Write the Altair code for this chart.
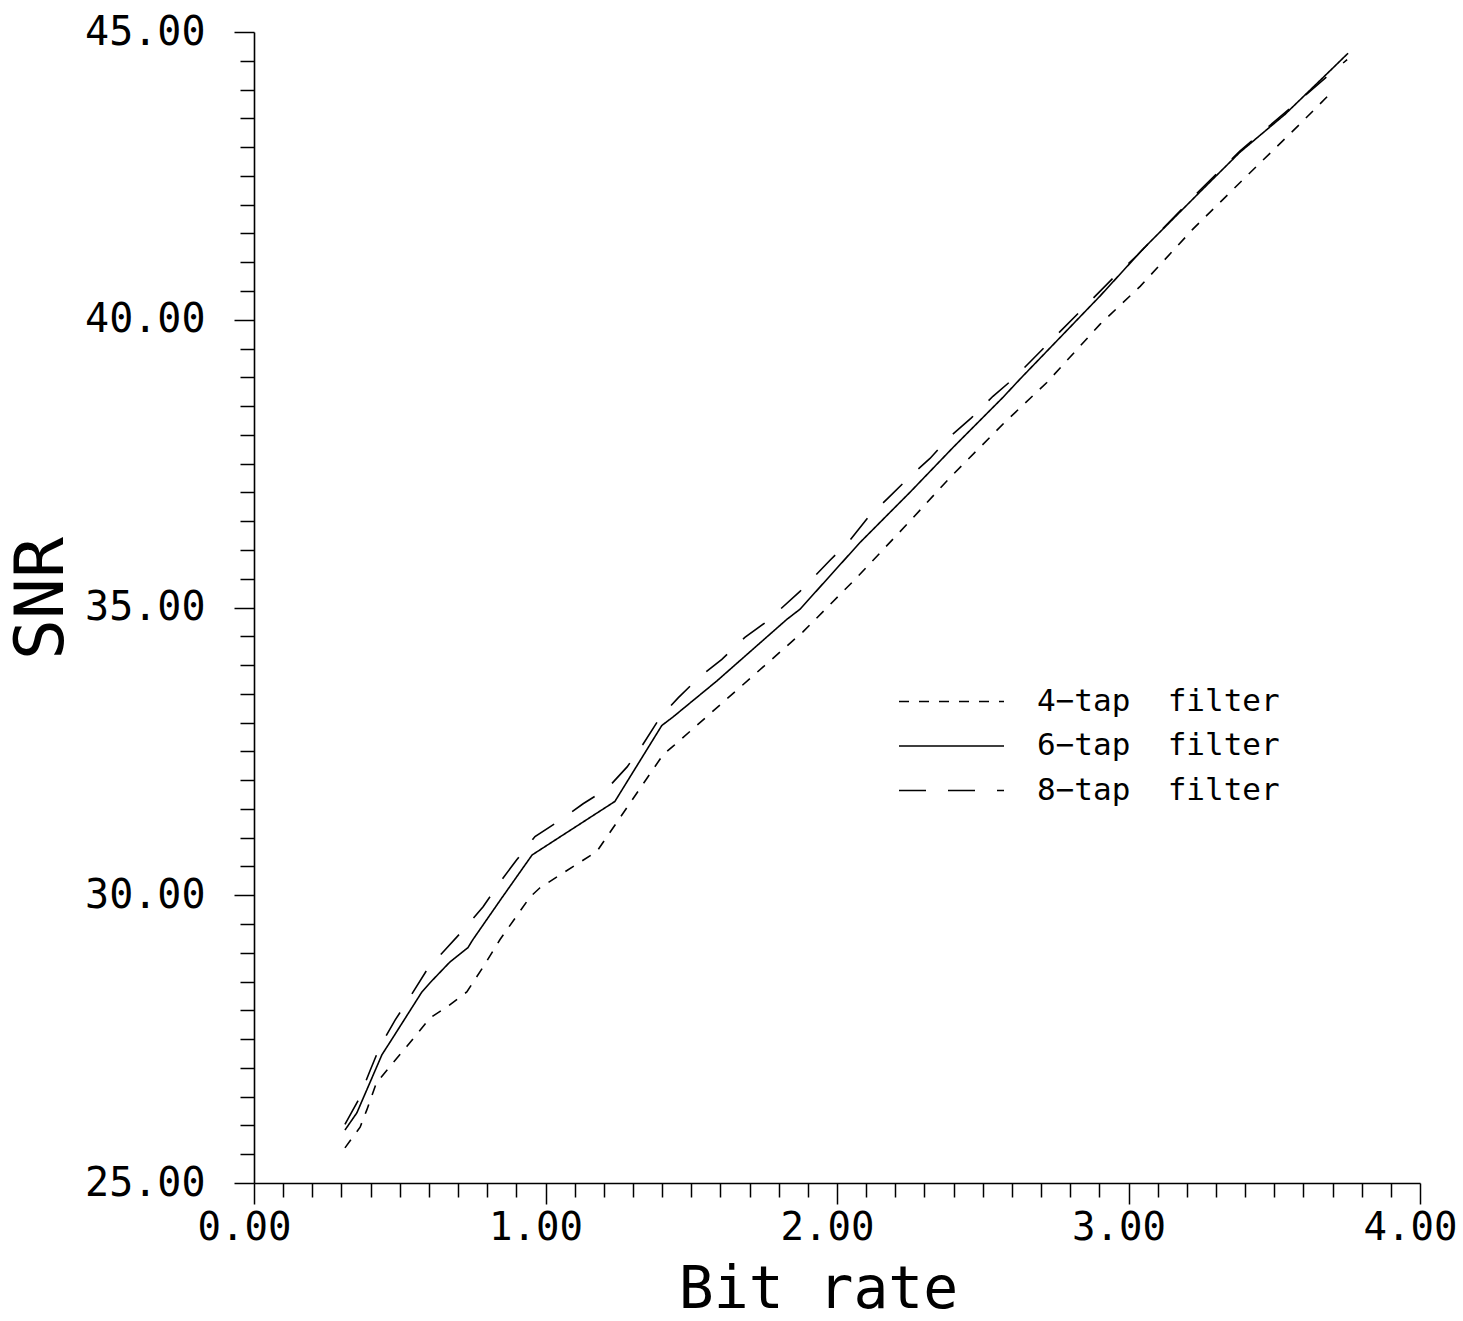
import altair as alt
import pandas as pd

# ---- data ----
series_names = ["4\u2212tap\u00a0 filter", "6\u2212tap\u00a0 filter", "8\u2212tap\u00a0 filter"]

rate4 = [0.312, 0.364, 0.387, 0.420, 0.477, 0.524, 0.604, 0.662, 0.730, 0.787, 0.844, 0.947, 0.981,
         1.176, 1.244, 1.403, 1.438, 1.884, 2.068, 2.250, 2.388, 2.576, 2.720, 2.902, 3.040, 3.220,
         3.406, 3.588, 3.700]
snr4 = [25.61, 25.97, 26.27, 26.74, 27.09, 27.37, 27.87, 28.06, 28.32, 28.76, 29.23, 29.97, 30.13,
        30.76, 31.26, 32.44, 32.59, 34.58, 35.52, 36.50, 37.26, 38.22, 38.91, 39.92, 40.58, 41.57,
        42.50, 43.40, 43.97]

rate6 = [0.312, 0.353, 0.439, 0.467, 0.576, 0.604, 0.672, 0.734, 0.751, 0.851, 0.954, 1.238, 1.399,
         1.438, 1.587, 1.827, 1.873, 2.079, 2.250, 2.398, 2.569, 2.628, 2.902, 3.050, 3.245, 3.382,
         3.537, 3.680, 3.753]
snr6 = [25.92, 26.22, 27.23, 27.45, 28.32, 28.48, 28.84, 29.09, 29.23, 29.96, 30.70, 31.63, 32.95,
        33.10, 33.72, 34.79, 34.97, 36.13, 37.00, 37.78, 38.65, 38.97, 40.41, 41.23, 42.22, 42.91,
        43.57, 44.27, 44.63]

rate8 = [0.312, 0.357, 0.398, 0.432, 0.484, 0.535, 0.593, 0.655, 0.724, 0.786, 0.844, 0.902, 0.964,
         1.043, 1.129, 1.211, 1.280, 1.334, 1.393, 1.455, 1.530, 1.605, 1.684, 1.760, 1.873, 1.976,
         2.041, 2.106, 2.175, 2.247, 2.319, 2.388, 2.460, 2.535, 2.604, 2.960, 3.030, 3.245, 3.382,
         3.537, 3.680, 3.750]
snr8 = [26.02, 26.43, 26.95, 27.37, 27.83, 28.23, 28.70, 29.05, 29.43, 29.80, 30.23, 30.62, 31.02,
        31.28, 31.59, 31.85, 32.23, 32.62, 33.09, 33.43, 33.80, 34.10, 34.48, 34.76, 35.28, 35.82,
        36.15, 36.56, 36.90, 37.26, 37.59, 37.97, 38.29, 38.67, 38.97, 40.79, 41.12, 42.25, 42.93,
        43.60, 44.22, 44.52]

x_major = [0, 1, 2, 3, 4]
x_minor = [round(i / 10, 1) for i in range(1, 40) if i % 10 != 0]
y_major = [25, 30, 35, 40, 45]
y_minor = [25 + i / 2 for i in range(1, 40) if i % 10 != 0]

rows = []
for name, xs, ys in zip(series_names, [rate4, rate6, rate8], [snr4, snr6, snr8]):
    for i, (a, b) in enumerate(zip(xs, ys)):
        rows.append({"series": name, "rate": a, "snr": b, "order": i})
df = pd.DataFrame(rows)

FONT = "DejaVu Sans Mono"
xscale = alt.Scale(domain=[0, 4], nice=False, zero=False)
yscale = alt.Scale(domain=[25, 45], nice=False, zero=False)

common_axis = dict(domainColor="black", tickColor="black", labelColor="black", titleColor="black",
                   labelFont=FONT, titleFont=FONT, grid=False, labelFlush=False, labelOverlap=False,
                   titleFontWeight="normal", labelFontWeight="normal")

lines = alt.Chart(df).mark_line(strokeWidth=1.6, color="black").encode(
    x=alt.X("rate:Q", scale=xscale,
            axis=alt.Axis(values=x_major, format=".2f", tickSize=21, tickWidth=1.5, domainWidth=1.6,
                          labelFontSize=39, labelPadding=4, labelOffset=-10, orient="bottom",
                          title="Bit rate", titleFontSize=58, titleX=564, titleY=124,
                          titleAlign="center", titleBaseline="alphabetic", **common_axis)),
    y=alt.Y("snr:Q", scale=yscale,
            axis=alt.Axis(values=y_major, format=".2f", tickSize=20, tickWidth=1.5, domainWidth=1.6,
                          labelFontSize=40, labelPadding=29, labelBaseline="middle", orient="left",
                          title="SNR", titleFontSize=68, titleAngle=-90, titleX=-192, titleY=566,
                          titleAlign="center", titleBaseline="alphabetic", **common_axis)),
    strokeDash=alt.StrokeDash("series:N",
                              scale=alt.Scale(domain=series_names, range=[[10, 10], [1, 0], [27, 22]]),
                              legend=alt.Legend(title=None, orient="none", legendX=714, legendY=651,
                                                symbolType="M-5,0H1", symbolSize=1225,
                                                symbolStrokeWidth=1.6, symbolStrokeColor="black",
                                                labelFont=FONT, labelFontSize=31, labelColor="black",
                                                labelLimit=600, labelOffset=32, rowPadding=10.5,
                                                padding=0)),
    order="order:Q",
)

minor = alt.Chart(df).mark_point(opacity=0).encode(
    x=alt.X("rate:Q", scale=xscale,
            axis=alt.Axis(values=x_minor, labels=False, domain=False, tickSize=14, tickWidth=1.5,
                          title=None, orient="bottom", tickColor="black", grid=False)),
    y=alt.Y("snr:Q", scale=yscale,
            axis=alt.Axis(values=y_minor, labels=False, domain=False, tickSize=14, tickWidth=1.5,
                          title=None, orient="left", tickColor="black", grid=False)),
)

chart = alt.layer(lines, minor).resolve_axis(x="independent", y="independent").properties(
    width=1166, height=1151,
    autosize=alt.AutoSizeParams(type="none"),
    padding={"left": 254, "top": 32, "right": 43, "bottom": 138},
    background="white",
).configure_view(stroke=None)

chart.save("out.html", embed_options={"renderer": "svg", "actions": False})
